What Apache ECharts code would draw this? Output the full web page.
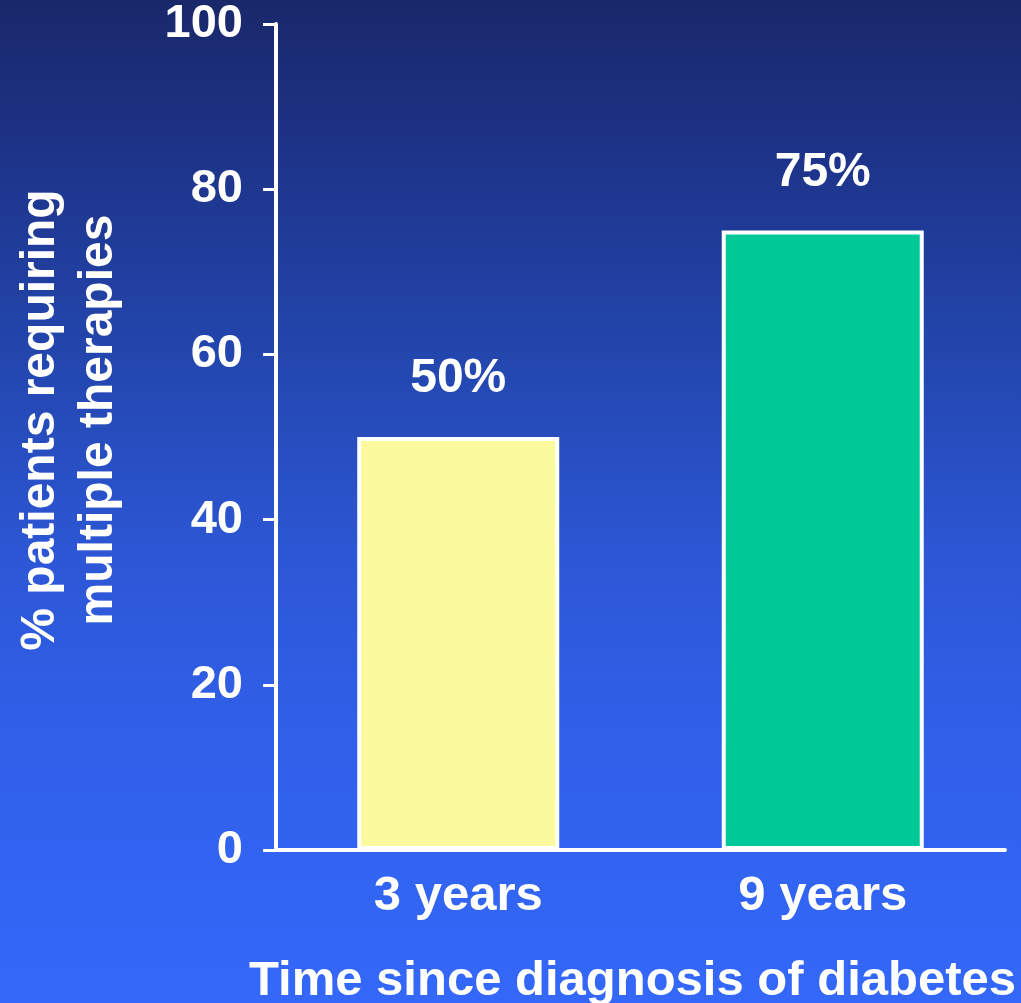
<!DOCTYPE html>
<html>
<head>
<meta charset="utf-8">
<script src="https://cdn.jsdelivr.net/npm/echarts@6/dist/echarts.min.js"></script>
<style>
  html, body { margin: 0; padding: 0; }
  #chart { width: 1021px; height: 1003px; }
</style>
</head>
<body>
<div id="chart"></div>
<script>
// Share of patients needing multiple therapies, by time since diagnosis
const categories = ['3 years', '9 years'];
const values = [50, 75];
const barColors = ['#FBFB9E', '#00C896'];
const yTicks = { min: 0, max: 100, interval: 20 };
const yTitle = '% patients requiring\nmultiple therapies';
const xTitle = 'Time since diagnosis of diabetes';

const font = '"Liberation Sans", Arial, sans-serif';
const chart = echarts.init(document.getElementById('chart'));

chart.setOption({
  backgroundColor: new echarts.graphic.LinearGradient(0, 0, 0, 1, [
    { offset: 0, color: '#19286A' },
    { offset: 0.15, color: '#1D3388' },
    { offset: 0.35, color: '#2346AD' },
    { offset: 0.55, color: '#2C56D4' },
    { offset: 0.72, color: '#305FE8' },
    { offset: 1, color: '#3468FA' }
  ]),
  animation: false,
  grid: {
    left: 276, right: 16, top: 24, bottom: 153,
    containLabel: false,
    outerBoundsMode: 'none'
  },
  xAxis: {
    type: 'category',
    data: categories,
    axisLine: { lineStyle: { color: '#ffffff', width: 4 } },
    axisTick: { show: false },
    axisLabel: {
      color: '#ffffff', fontFamily: font, fontWeight: 'bold', fontSize: 49, margin: 22
    },
    name: xTitle,
    nameLocation: 'middle',
    nameGap: 107,
    nameTextStyle: {
      color: '#ffffff', fontFamily: font, fontWeight: 'bold', fontSize: 49, padding: [0, 16, 0, 0]
    }
  },
  yAxis: {
    type: 'value',
    min: yTicks.min,
    max: yTicks.max,
    interval: yTicks.interval,
    splitLine: { show: false },
    axisLine: { show: true, lineStyle: { color: '#ffffff', width: 4 } },
    axisTick: { show: true, length: 13, lineStyle: { color: '#ffffff', width: 3 } },
    axisLabel: {
      color: '#ffffff', fontFamily: font, fontWeight: 'bold', fontSize: 47, margin: 33
    }
  },
  graphic: [{
    type: 'text',
    x: 70,
    y: 420,
    rotation: Math.PI / 2,
    style: {
      text: yTitle,
      fill: '#ffffff',
      font: 'bold 48px ' + font,
      textAlign: 'center',
      textVerticalAlign: 'middle',
      lineHeight: 58
    }
  }],
  series: [{
    type: 'bar',
    barWidth: 202,
    data: values.map((v, i) => ({
      value: v,
      itemStyle: { color: barColors[i] }
    })),
    itemStyle: { borderColor: '#ffffff', borderWidth: 4 },
    label: {
      show: true,
      position: 'top',
      distance: 34,
      formatter: '{c}%',
      color: '#ffffff',
      fontFamily: font,
      fontWeight: 'bold',
      fontSize: 48
    }
  }]
});
</script>
</body>
</html>
